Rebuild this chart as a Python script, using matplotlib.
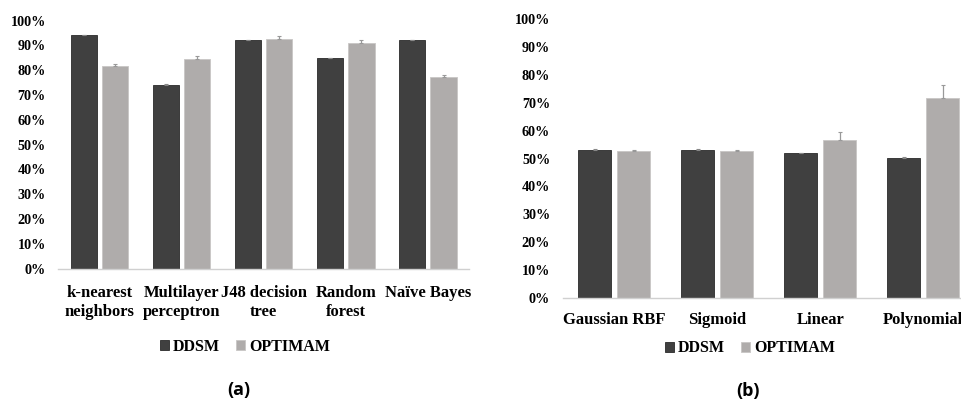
import matplotlib
matplotlib.use("Agg")
import matplotlib.pyplot as plt
import numpy as np
from matplotlib.ticker import FuncFormatter

# Classifier comparison (panel a)
clf_labels = ["k-nearest\nneighbors", "Multilayer\nperceptron", "J48 decision\ntree",
              "Random\nforest", "Naïve Bayes"]
clf_ddsm = [94.2, 74.1, 92.1, 84.7, 92.2]
clf_ddsm_err = [0.1, 0.1, 0.1, 0.1, 0.1]
clf_optimam = [81.5, 84.5, 92.5, 91.1, 77.1]
clf_optimam_err = [1.0, 1.0, 1.2, 1.1, 1.0]

# SVM kernel comparison (panel b)
kernel_labels = ["Gaussian RBF", "Sigmoid", "Linear", "Polynomial"]
kernel_ddsm = [53.2, 53.2, 52.0, 50.3]
kernel_ddsm_err = [0.1, 0.1, 0.1, 0.1]
kernel_optimam = [52.8, 52.8, 56.7, 71.6]
kernel_optimam_err = [0.2, 0.2, 2.8, 4.9]

series_names = ["DDSM", "OPTIMAM"]
yticks = list(range(0, 101, 10))

DARK = "#404040"
LIGHT = "#AFACAB"
SERIF = "Liberation Serif"

plt.rcParams["font.family"] = SERIF
plt.rcParams["font.weight"] = "bold"

W, H = 962, 403
fig = plt.figure(figsize=(W / 100, H / 100), dpi=100)


def panel(rect, labels, ddsm, ddsm_err, opt, opt_err, xmax, label_pad):
    ax = fig.add_axes(rect)
    x = np.arange(len(labels))
    bw = 0.32
    off = 0.19
    n = len(labels)
    b1 = ax.bar(x - off, ddsm, bw, color=DARK, edgecolor="#2a2a2a", linewidth=0.6,
                yerr=[[0] * n, ddsm_err],
                error_kw=dict(ecolor="#888888", elinewidth=0.8, capsize=1.5, capthick=0.8),
                label=series_names[0], zorder=2)
    b2 = ax.bar(x + off, opt, bw, color=LIGHT, edgecolor="#c8c6c5", linewidth=0.6,
                yerr=[[0] * n, opt_err],
                error_kw=dict(ecolor="#999999", elinewidth=0.9, capsize=1.5, capthick=0.8),
                label=series_names[1], zorder=2)
    ax.set_xlim(-0.5, xmax)
    ax.set_ylim(0, 100)
    ax.set_yticks(yticks)
    ax.yaxis.set_major_formatter(FuncFormatter(lambda v, p: f"{int(v)}%"))
    ax.set_xticks(x)
    ax.set_xticklabels(labels, fontsize=12, linespacing=1.2)
    ax.tick_params(axis="y", length=0, pad=9, labelsize=10.2)
    ax.tick_params(axis="x", length=0, pad=label_pad)
    for s in ["top", "right", "left"]:
        ax.spines[s].set_visible(False)
    ax.spines["bottom"].set_color("#d0d0d0")
    ax.spines["bottom"].set_linewidth(1.0)
    ax.spines["bottom"].set_zorder(3)
    return ax, b1, b2


# panel (a): x -0.5..4.5 spans px 58..469, y 0..100 spans px 268.5..20.5
ax1, a1, a2 = panel([58.3 / W, (H - 268.5) / H, (469 - 58.3) / W, 248 / H],
                    clf_labels, clf_ddsm, clf_ddsm_err, clf_optimam, clf_optimam_err, 4.5, 12)
# panel (b): x -0.5 at px 562.7, 103 px per category; y 0..100 spans 297.7..19.3
xmax_b = (W - 562.7) / 103 - 0.5
ax2, c1, c2 = panel([562.7 / W, (H - 297.7) / H, (W - 562.7) / W, 278.4 / H],
                    kernel_labels, kernel_ddsm, kernel_ddsm_err, kernel_optimam, kernel_optimam_err,
                    xmax_b, 10)

leg_kw = dict(ncol=2, frameon=False, handlelength=0.55, handleheight=0.6, handletextpad=0.25,
              columnspacing=1.0, loc="center",
              prop=dict(family=SERIF, weight="bold", size=11.5))
fig.legend([a1, a2], series_names, bbox_to_anchor=(245 / W, 1 - 346.7 / H), **leg_kw)
fig.legend([c1, c2], series_names, bbox_to_anchor=(750 / W, 1 - 348.3 / H), **leg_kw)

fig.text(239 / W, 1 - 390 / H, "(a)", ha="center", va="center", fontsize=13,
         fontweight="bold", family="Open Sans")
fig.text(748 / W, 1 - 391 / H, "(b)", ha="center", va="center", fontsize=13,
         fontweight="bold", family="Open Sans")

fig.savefig("out.png", dpi=100)
